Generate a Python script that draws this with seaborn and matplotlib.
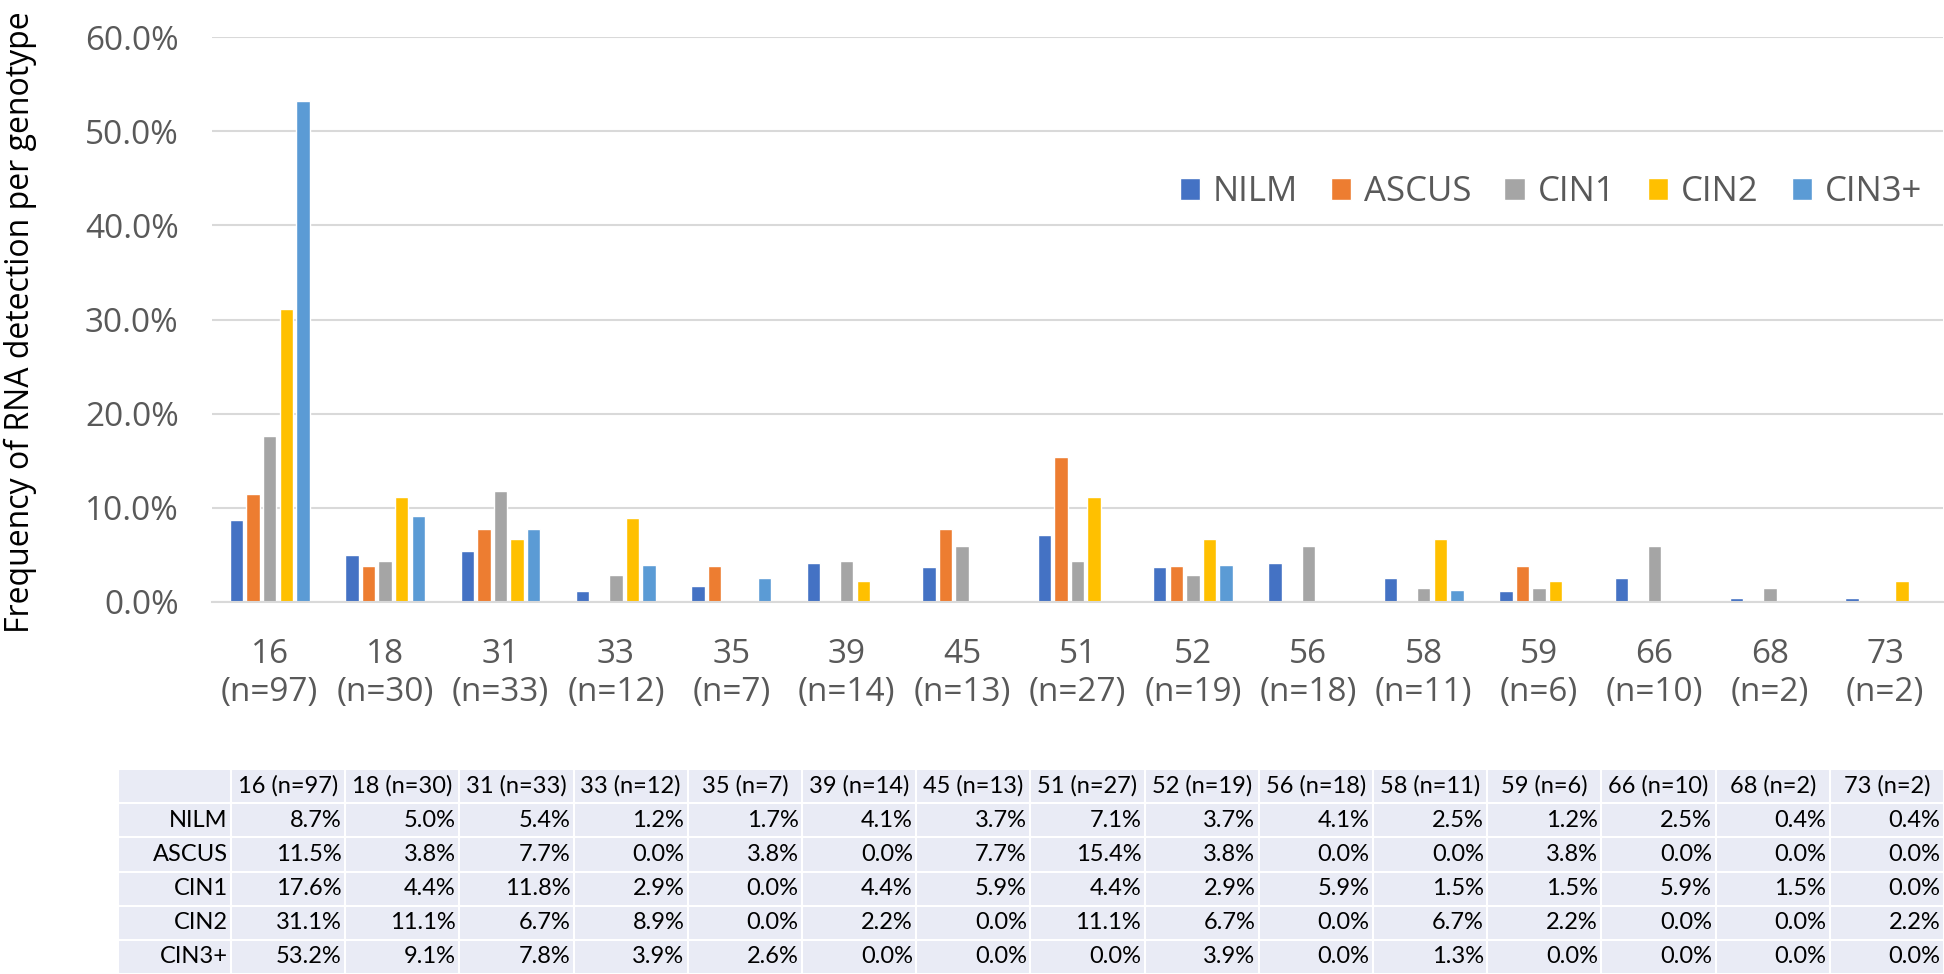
import numpy as np
import pandas as pd
from matplotlib import pyplot as plt
import seaborn as sns

genotypes = ['16', '18', '31', '33', '35', '39', '45', '51', '52', '56', '58', '59', '66', '68', '73']
n_counts = [97, 30, 33, 12, 7, 14, 13, 27, 19, 18, 11, 6, 10, 2, 2]
grades = ['NILM', 'ASCUS', 'CIN1', 'CIN2', 'CIN3+']

nilm = [8.7, 5.0, 5.4, 1.2, 1.7, 4.1, 3.7, 7.1, 3.7, 4.1, 2.5, 1.2, 2.5, 0.4, 0.4]
ascus = [11.5, 3.8, 7.7, 0.0, 3.8, 0.0, 7.7, 15.4, 3.8, 0.0, 0.0, 3.8, 0.0, 0.0, 0.0]
cin1 = [17.6, 4.4, 11.8, 2.9, 0.0, 4.4, 5.9, 4.4, 2.9, 5.9, 1.5, 1.5, 5.9, 1.5, 0.0]
cin2 = [31.1, 11.1, 6.7, 8.9, 0.0, 2.2, 0.0, 11.1, 6.7, 0.0, 6.7, 2.2, 0.0, 0.0, 2.2]
cin3 = [53.2, 9.1, 7.8, 3.9, 2.6, 0.0, 0.0, 0.0, 3.9, 0.0, 1.3, 0.0, 0.0, 0.0, 0.0]

colors = ['#4472C4', '#ED7D31', '#A5A5A5', '#FFC000', '#5B9BD5']
tick_color = '#595959'
grid_color = '#D9D9D9'

sns.set_theme(style='white')
plt.rcParams['font.family'] = ['Open Sans', 'DejaVu Sans']

wide = pd.DataFrame({'NILM': nilm, 'ASCUS': ascus, 'CIN1': cin1, 'CIN2': cin2, 'CIN3+': cin3})
wide['genotype'] = genotypes
data = wide.melt(id_vars='genotype', var_name='grade', value_name='freq')

fig = plt.figure(figsize=(19.44, 9.74), dpi=100)
ax = fig.add_axes([212 / 1944, 1 - 602 / 974, (1943 - 212) / 1944, (602 - 37) / 974])

sns.barplot(data=data, x='genotype', y='freq', hue='grade', hue_order=grades,
            order=genotypes, palette=colors, width=0.72, gap=0.2,
            saturation=1, errorbar=None, ax=ax)

ax.set_ylim(0, 60)
ax.set_yticks(np.arange(0, 61, 10))
ax.set_yticklabels([f'{v:.1f}%' for v in np.arange(0, 61, 10)])
ax.set_xticks(range(len(genotypes)))
ax.set_xticklabels([f'{g}\n(n={n})' for g, n in zip(genotypes, n_counts)], linespacing=1.2)
ax.tick_params(axis='x', length=0, pad=26, labelsize=24, colors=tick_color)
ax.tick_params(axis='y', length=0, pad=24, labelsize=24, colors=tick_color)
ax.yaxis.grid(True, color=grid_color, linewidth=1.5)
ax.set_axisbelow(True)
for side in ['top', 'right', 'left']:
    ax.spines[side].set_visible(False)
ax.spines['bottom'].set_color(grid_color)
ax.spines['bottom'].set_linewidth(1.5)
ax.set_xlabel('')
ax.set_ylabel('')
fig.text(20 / 1944, 1 - 322 / 974, 'Frequency of RNA detection per genotype',
         rotation=90, ha='center', va='center', fontsize=23, color='black')

ax.legend(loc='center right', bbox_to_anchor=(1922 / 1944, 1 - 192 / 974),
          bbox_transform=fig.transFigure, ncol=5, frameon=False, fontsize=25,
          borderpad=0, borderaxespad=0,
          handlelength=0.58, handleheight=0.58, handletextpad=0.37, columnspacing=0.95,
          labelcolor=tick_color)

# table below the chart
tax = fig.add_axes([118 / 1944, 0, (1944 - 118) / 1944, (974 - 769) / 974])
tax.axis('off')
series = [nilm, ascus, cin1, cin2, cin3]
cell_text = [[''] + [f'{g} (n={n})' for g, n in zip(genotypes, n_counts)]]
for name, vals in zip(grades, series):
    cell_text.append([name] + [f'{v:.1f}%' for v in vals])
col_w = [113] + [114.2] * len(genotypes)
col_w = [w / sum(col_w) for w in col_w]
tbl = tax.table(cellText=cell_text, colWidths=col_w, bbox=[0, 0, 1, 1], cellLoc='right')
tbl.auto_set_font_size(False)
for (r, c), cell in tbl.get_celld().items():
    cell.set_facecolor('#E9EBF5')
    cell.set_edgecolor('white')
    cell.set_linewidth(1.5)
    cell.PAD = 0.03
    cell.get_text().set_fontsize(17)
    cell.get_text().set_fontfamily(['Lato', 'DejaVu Sans'])
    cell.get_text().set_color('black')
    if r == 0:
        cell.get_text().set_ha('center')
        cell.PAD = 0.0

fig.savefig('out.png', dpi=100)
